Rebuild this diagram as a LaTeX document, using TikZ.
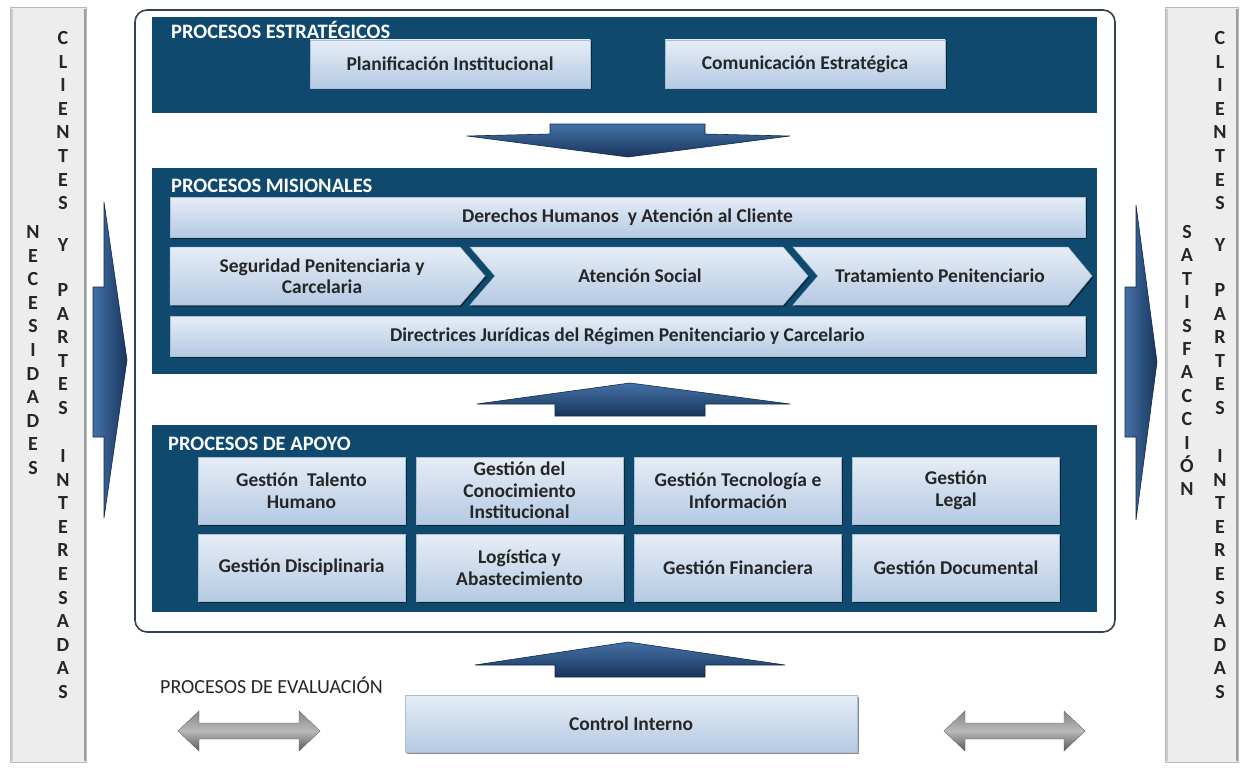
\documentclass[tikz,border=0pt]{standalone}
\usepackage{fontspec}
\setmainfont{Carlito}
\usetikzlibrary{shadows}
\definecolor{bandblue}{HTML}{0F4A6E}
\definecolor{boxtop}{HTML}{E6EDF6}
\definecolor{boxbot}{HTML}{B5CAE3}
\definecolor{boxline}{HTML}{A9BDD6}
\definecolor{txt}{HTML}{262626}
\definecolor{framec}{HTML}{34414F}
\definecolor{arrdark}{HTML}{17355C}
\definecolor{arrlight}{HTML}{4571A6}
\newcommand\boxfont{\bfseries\fontsize{19.5}{21.5}\selectfont}
\newcommand\titlefont{\bfseries\fontsize{20.5}{22}\selectfont}
\newcommand\vfont{\bfseries\fontsize{20}{21}\selectfont}
\begin{document}
\begin{tikzpicture}[x=1pt,y=-1pt,
  band/.style={fill=bandblue,draw=none},
  lbox/.style={rectangle,top color=boxtop,bottom color=boxbot,draw=boxline,line width=0.5pt,
     drop shadow={shadow xshift=1.5pt,shadow yshift=-1.5pt,opacity=0.45,fill=black},
     text=txt,font=\boxfont,align=center,inner sep=0pt},
  chevsty/.style={top color=boxtop,bottom color=boxbot,draw=boxline,line width=0.5pt,
     drop shadow={shadow xshift=1.5pt,shadow yshift=-1.5pt,opacity=0.45,fill=black}},
  ctext/.style={text=txt,font=\boxfont,align=center,inner sep=0pt},
  btitle/.style={text=white,font=\titlefont,anchor=west,inner sep=0pt},
  bluearrow/.style={top color=arrlight,bottom color=arrdark,draw=arrdark!80!black,line width=0.6pt},
  sidearrow/.style={left color=arrlight,right color=arrdark,draw=arrdark!80!black,line width=0.6pt},
  grayarrow/.style={top color=gray!95,bottom color=gray!70!black,middle color=gray!55,draw=gray!80!black,line width=0.4pt},
  graybar/.style={fill=gray!14,draw=gray!55,line width=1pt},
  vl/.style={text=txt,font=\vfont,anchor=base,inner sep=0pt}
]
\useasboundingbox (0,0) rectangle (1243,768);
\fill[white] (0,0) rectangle (1243,768);

% side bars
\path[graybar] (10,8) rectangle (86,762);
\draw[gray!40,line width=2pt] (12,9) -- (12,761);
\draw[gray!75,line width=2.5pt] (85,9) -- (85,761);
\path[graybar] (1165,8) rectangle (1238,762);
\draw[gray!40,line width=2pt] (1167,9) -- (1167,761);
\draw[gray!75,line width=2.5pt] (1237,9) -- (1237,761);

% vertical texts left
\foreach \ch [count=\k from 0] in {C,L,I,E,N,T,E,S}
  \node[vl] (la\k) at (63,{38+23.6*\k+6.5}) {\ch};
\node[vl] (ly) at (63,245+6.5) {Y};
\foreach \ch [count=\k from 0] in {P,A,R,T,E,S}
  \node[vl] (lb\k) at (63,{290+23.6*\k+6.5}) {\ch};
\foreach \ch [count=\k from 0] in {I,N,T,E,R,E,S,A,D,A,S}
  \node[vl] (lc\k) at (63,{456+23.6*\k+6.5}) {\ch};
\foreach \ch [count=\k from 0] in {N,E,C,E,S,I,D,A,D,E,S}
  \node[vl] (ln\k) at (33,{232+23.6*\k+6.5}) {\ch};

% vertical texts right
\foreach \ch [count=\k from 0] in {C,L,I,E,N,T,E,S}
  \node[vl] (ra\k) at (1220,{38+23.6*\k+6.5}) {\ch};
\node[vl] (ry) at (1220,245+6.5) {Y};
\foreach \ch [count=\k from 0] in {P,A,R,T,E,S}
  \node[vl] (rb\k) at (1220,{290+23.6*\k+6.5}) {\ch};
\foreach \ch [count=\k from 0] in {I,N,T,E,R,E,S,A,D,A,S}
  \node[vl] (rc\k) at (1220,{456+23.6*\k+6.5}) {\ch};
\foreach \ch [count=\k from 0] in {S,A,T,I,S,F,A,C,C,I,Ó,N}
  \node[vl] (rs\k) at (1187,{232+23.4*\k+6.5}) {\ch};

% side arrows
\path[sidearrow] (93,287) -- (104,287) -- (104,202) -- (127,360) -- (104,518) -- (104,437) -- (93,437) -- cycle;
\path[sidearrow] (1125,287) -- (1136,287) -- (1136,205) -- (1157,362) -- (1136,520) -- (1136,437) -- (1125,437) -- cycle;

% main frame
\draw[framec,line width=1.6pt,rounded corners=12pt] (135,10) rectangle (1115,632);

% strategic band
\path[band] (152,17) rectangle (1097,113);
\node[btitle] (t1) at (171,30) {PROCESOS ESTRATÉGICOS};
\node[lbox,minimum width=280,minimum height=48] (plan) at (450,64) {Planificación Institucional};
\node[lbox,minimum width=280,minimum height=48] (comu) at (805,64) {Comunicación Estratégica};

% down arrow
\path[bluearrow] (550,124) -- (705,124) -- (705,134) -- (790,136) -- (628,157) -- (467,136) -- (550,134) -- cycle;

% misional band
\path[band] (152,168) rectangle (1097,374);
\node[btitle] (t2) at (171,186) {PROCESOS MISIONALES};
\node[lbox,minimum width=915,minimum height=40] (dh) at (627.5,217) {Derechos Humanos\ \ y Atención al Cliente};
\path[chevsty] (170,247) -- (460,247) -- (485,276) -- (460,305) -- (170,305) -- cycle;
\path[chevsty] (470,247) -- (783,247) -- (808,276) -- (783,305) -- (470,305) -- (495,276) -- cycle;
\path[chevsty] (793,247) -- (1068,247) -- (1092,276) -- (1068,305) -- (793,305) -- (818,276) -- cycle;
\node[ctext] (seg) at (322,276) {Seguridad Penitenciaria y\\Carcelaria};
\node[ctext] (ats) at (640,276) {Atención Social};
\node[ctext] (tra) at (940,276) {Tratamiento Penitenciario};
\node[lbox,minimum width=915,minimum height=40] (dj) at (627.5,336) {Directrices Jurídicas del Régimen Penitenciario y Carcelario};

% up arrow 1
\path[bluearrow] (630,383) -- (790,404) -- (705,404) -- (705,416) -- (555,416) -- (555,404) -- (477,404) -- cycle;

% apoyo band
\path[band] (152,425) rectangle (1097,612);
\node[btitle] (t3) at (168,444) {PROCESOS DE APOYO};
\node[lbox,minimum width=207,minimum height=67] (a1) at (301.5,490.5) {Gestión\ \ Talento\\Humano};
\node[lbox,minimum width=207,minimum height=67] (a2) at (519.5,490.5) {Gestión del\\Conocimiento\\Institucional};
\node[lbox,minimum width=207,minimum height=67] (a3) at (738,490.5) {Gestión Tecnología e\\Información};
\node[lbox,minimum width=207,minimum height=67] (a4) at (956,490.5) {Gestión\\Legal};
\node[lbox,minimum width=207,minimum height=67] (b1) at (301.5,567.5) {Gestión Disciplinaria};
\node[lbox,minimum width=207,minimum height=67] (b2) at (519.5,567.5) {Logística y\\Abastecimiento};
\node[lbox,minimum width=207,minimum height=67] (b3) at (738,567.5) {Gestión Financiera};
\node[lbox,minimum width=207,minimum height=67] (b4) at (956,567.5) {Gestión Documental};

% up arrow 2
\path[bluearrow] (628,642) -- (785,665) -- (705,665) -- (705,677) -- (555,677) -- (555,665) -- (475,665) -- cycle;

% evaluation
\node[text=txt,font=\fontsize{20}{22}\selectfont,anchor=west,inner sep=0pt] (ev) at (160,685) {PROCESOS DE EVALUACIÓN};
\node[lbox,minimum width=452,minimum height=57] (ci) at (631,723.5) {Control Interno};

% gray double arrows
\path[grayarrow] (178,731) -- (199,711) -- (199,723) -- (299,723) -- (299,711) -- (320,731) -- (299,751) -- (299,739) -- (199,739) -- (199,751) -- cycle;
\path[grayarrow] (944,731) -- (965,711) -- (965,723) -- (1064,723) -- (1064,711) -- (1085,731) -- (1064,751) -- (1064,739) -- (965,739) -- (965,751) -- cycle;
\end{tikzpicture}
\end{document}
